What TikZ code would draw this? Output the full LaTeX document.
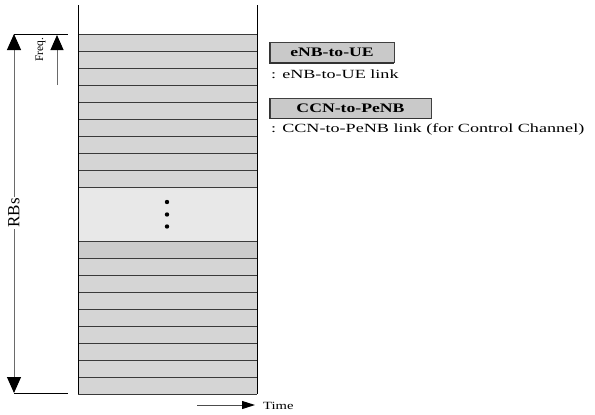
\documentclass[tikz,border=0pt]{standalone}
\usepackage{fontspec}
\setmainfont{Liberation Serif}
\newfontfamily\wideR[FakeStretch=1.45]{Liberation Serif}
\newfontfamily\wideB[FakeStretch=1.36]{Liberation Serif}
\newfontfamily\wideT[FakeStretch=1.33]{Liberation Serif}
\usetikzlibrary{arrows.meta}
\definecolor{rowgray}{HTML}{D5D5D5}
\definecolor{rowdark}{HTML}{CBCBCB}
\definecolor{lightblock}{HTML}{E8E8E8}
\definecolor{boxgray}{HTML}{C9C9C9}
\definecolor{rowline}{HTML}{3A3A3A}
\definecolor{axisgray}{HTML}{6A6A6A}
\begin{document}
\begin{tikzpicture}[x=1pt,y=-1pt,
  rowfill/.style={fill=rowgray},
  rowsep/.style={draw=rowline,line width=0.9pt},
  side/.style={draw=black,line width=0.8pt},
  legbox/.style={fill=boxgray,draw=black!75,line width=0.6pt,inner sep=0pt,
     font=\wideB\fontsize{13}{15}\selectfont\bfseries},
  legtext/.style={anchor=base west,inner sep=0pt,font=\wideR\fontsize{12.5}{15}\selectfont},
  bigarrow/.style={draw=axisgray,line width=1pt,
     {Triangle[width=14pt,length=16pt,color=black]}-{Triangle[width=14pt,length=16pt,color=black]}},
  freqarrow/.style={draw=axisgray,line width=1pt,-{Triangle[width=13pt,length=15pt,color=black]}},
  timearrow/.style={draw=black!70,line width=1pt,-{Triangle[width=8pt,length=13pt,color=black]}},
  dot/.style={circle,fill=black,inner sep=0pt,minimum size=4.4pt}]
\useasboundingbox (0,0) rectangle (595,415);
% rows
\foreach \i in {0,...,8} {\path[rowfill] (78,34+17*\i) rectangle (257,51+17*\i);}
\path[fill=lightblock] (78,187) rectangle (257,241);
\foreach \i in {0,...,8} {\path[rowfill] (78,241+17*\i) rectangle (257,258+17*\i);}
\path[fill=rowdark] (78,241) rectangle (257,258);
\foreach \y in {34,51,...,187} {\draw[rowsep] (78,\y) -- (257,\y);}
\foreach \y in {241,258,...,394} {\draw[rowsep] (78,\y) -- (257,\y);}
\draw[side] (78,5) -- (78,394);
\draw[side] (257,5) -- (257,394);
% dots
\node[dot] (d1) at (167,202) {};
\node[dot] (d2) at (167,214.5) {};
\node[dot] (d3) at (167,226.5) {};
% left axis
\coordinate (rt) at (14,34);
\coordinate (rb) at (14,393);
\coordinate (tr) at (68,34);
\coordinate (br) at (68,393);
\draw[black,line width=0.8pt] (rt) -- (tr);
\draw[black,line width=0.8pt] (rb) -- (br);
\draw[bigarrow] (rb) -- (rt);
\node[rotate=90,fill=white,inner sep=1pt,font=\fontsize{17}{17}\selectfont] (rbs) at (14,213) {RBs};
\coordinate (fb) at (57,85);
\coordinate (ft) at (57,35);
\draw[freqarrow] (fb) -- (ft);
\node[rotate=90,inner sep=0pt,font=\fontsize{11.5}{12}\selectfont] (freq) at (40.5,50) {Freq.};
% time
\coordinate (ts) at (197,405);
\coordinate (te) at (255,405);
\draw[timearrow] (ts) -- (te);
\node[anchor=west,inner sep=0pt,font=\wideT\fontsize{11}{12}\selectfont] (time) at (263,405.5) {Time};
% legend
\node[legbox,minimum width=124pt,minimum height=20pt] (b1) at (332,52.5) {eNB-to-UE};
\draw[black!80,line width=1.4pt] (b1.north west) -- (b1.south west) -- (b1.south east);
\node[legtext] (t1) at (271,78.5) {: eNB-to-UE link};
\node[legbox,minimum width=161pt,minimum height=20pt] (b2) at (350.5,108) {CCN-to-PeNB};
\draw[black!80,line width=1.4pt] (b2.north west) -- (b2.south west) -- (b2.south east);
\node[legtext] (t2) at (271,132.5) {: CCN-to-PeNB link (for Control Channel)};
\end{tikzpicture}
\end{document}
